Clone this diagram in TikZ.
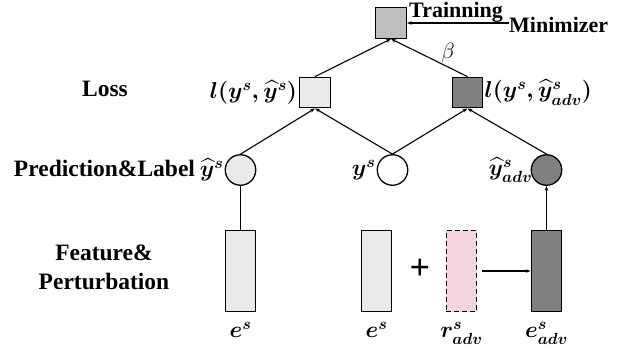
\RequirePackage{fix-cm}
\documentclass[tikz,border=0pt]{standalone}
\usepackage{amsmath}
\usepackage{fontspec}
\setmainfont{Liberation Serif}
\usetikzlibrary{arrows.meta,positioning}

\definecolor{lightfill}{HTML}{EAEAEA}
\definecolor{midfill}{HTML}{BFBFBF}
\definecolor{darkfill}{HTML}{808080}
\definecolor{pinkfill}{HTML}{F4D5DE}

\tikzset{
	box/.style={draw,line width=1.3pt,minimum size=30.5pt,inner sep=0pt},
	ball/.style={draw,circle,line width=1.3pt,minimum size=30.5pt,inner sep=0pt},
	bar/.style={draw,line width=1.3pt,minimum width=30.5pt,minimum height=81pt,inner sep=0pt},
	txt/.style={font=\fontsize{23.5}{29}\selectfont\bfseries,inner sep=0pt},
	mth/.style={font=\fontsize{23}{26}\selectfont\boldmath,inner sep=1pt},
	link/.style={line width=1.1pt,-{Stealth[length=5pt,width=3.5pt]}}
}

\begin{document}
\begin{tikzpicture}[x=1pt,y=-1pt]
	\useasboundingbox (0,0) rectangle (634,351);

	\node[box,fill=midfill]		(top)		at (391,23)		{};
	\node[box,fill=lightfill]	(lossa)		at (315,92.5)	{};
	\node[box,fill=darkfill]	(lossb)		at (467.5,92.5)	{};
	\node[ball,fill=lightfill]	(pred)		at (240.5,170)	{};
	\node[ball,fill=white]		(label)		at (392.5,170)	{};
	\node[ball,fill=darkfill]	(predadv)	at (546.5,170)	{};
	\node[bar,fill=lightfill]	(feat)		at (240.5,271)	{};
	\node[bar,fill=lightfill]	(featb)		at (376.5,271)	{};
	\node[bar,fill=pinkfill,dash pattern=on 5pt off 3pt] (pert) at (461.5,271) {};
	\node[bar,fill=darkfill]	(featadv)	at (546.5,271)	{};
	\node[font=\fontsize{36}{36}\selectfont\bfseries] (plus) at (420,269) {+};

	\node[txt]					(rowloss)	at (105,89)		{Loss};
	\node[txt]					(rowpred)	at (104.5,168)	{Prediction\&Label};
	\node[txt,align=center]		(rowfeat)	at (104,267)	{Feature\&\\Perturbation};
	\node[txt,font=\fontsize{22}{25}\selectfont\bfseries,anchor=base west] (trn) at (409,17) {Trainning};
	\node[txt,font=\fontsize{22}{25}\selectfont\bfseries,anchor=base west] (mini) at (509,32) {Minimizer};

	\node[mth,left=1pt of lossa]	(la)	{$l(y^s,\widehat{y}^s)$};
	\node[mth,right=0pt of lossb]	(lb)	{$l(y^s,\widehat{y}^s_{adv})$};
	\node[mth,left=0pt of pred]		(pa)	{$\widehat{y}^s$};
	\node[mth,left=0pt of label]	(pb)	{$y^s$};
	\node[mth,left=-3pt of predadv]	(pc)	{$\widehat{y}^s_{adv}$};
	\node[mth,below=9pt of feat]	(ea)	{$e^s$};
	\node[mth,below=9pt of featb]	(eb)	{$e^s$};
	\node[mth,below=9pt of pert]	(ra)	{$r^s_{adv}$};
	\node[mth,below=9pt of featadv]	(ec)	{$e^s_{adv}$};
	\node[font=\fontsize{22}{24}\selectfont] (beta) at (448,53) {$\beta$};

	\draw[link]	(lossa.north)	-- (top.south);
	\draw[link]	(lossb.north)	-- (top.south);
	\draw[link]	(mini.west |- top.east) -- (top.east);
	\draw[link]	(pred.north)	-- (lossa.south);
	\draw[link]	(label.north)	-- (lossa.south);
	\draw[link]	(label.north)	-- (lossb.south);
	\draw[link]	(predadv.north)	-- (lossb.south);
	\draw[line width=1.1pt]	(feat.north) -- (pred.south);
	\draw[link]	(featadv.north)	-- (predadv.south);
	\draw[link,shorten <=5pt]	(pert.east) -- (featadv.west);
\end{tikzpicture}
\end{document}
